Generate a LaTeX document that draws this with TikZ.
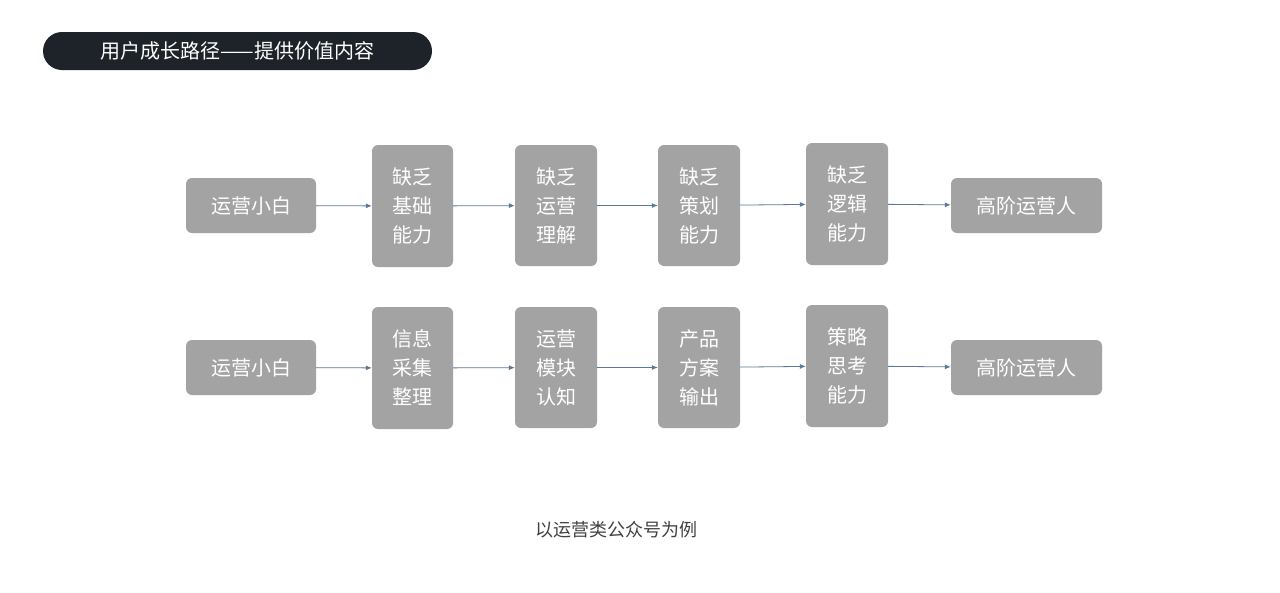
\documentclass[tikz,border=0pt]{standalone}
\usepackage{fontspec}
\setmainfont{Noto Sans CJK SC}
\usetikzlibrary{arrows.meta}
\definecolor{boxgray}{HTML}{A3A3A3}
\definecolor{titlebg}{HTML}{1E2329}
\definecolor{arrowc}{HTML}{5B7897}
\tikzset{
 box/.style={fill=boxgray,rounded corners=6pt,text=white,font=\fontsize{20}{29}\selectfont,align=center,inner sep=0pt},
 conn/.style={draw=arrowc,line width=0.8pt,-{Latex[length=6pt,width=5pt]}}
}
\begin{document}
\begin{tikzpicture}[x=1pt,y=-1pt]
\useasboundingbox (0,0) rectangle (1280,592);
\node[fill=titlebg,rounded corners=19pt,minimum width=389pt,minimum height=38pt,text=white,font=\fontsize{20}{24}\selectfont] (title) at (237.5,51) {用户成长路径——提供价值内容};
\foreach \r/\dy/\a/\b/\c/\d in {1/0/缺乏\\基础\\能力/缺乏\\运营\\理解/缺乏\\策划\\能力/缺乏\\逻辑\\能力, 2/162/信息\\采集\\整理/运营\\模块\\认知/产品\\方案\\输出/策略\\思考\\能力}{
 \node[box,minimum width=130pt,minimum height=55pt] (s\r) at (251,205.5+\dy) {运营小白};
 \node[box,minimum width=81pt,minimum height=122pt] (a\r) at (412.5,206+\dy) {\a};
 \node[box,minimum width=82pt,minimum height=121pt] (b\r) at (556,205.5+\dy) {\b};
 \node[box,minimum width=82pt,minimum height=121pt] (c\r) at (699,205.5+\dy) {\c};
 \node[box,minimum width=82pt,minimum height=122pt] (d\r) at (847,204+\dy) {\d};
 \node[box,minimum width=151pt,minimum height=55pt] (e\r) at (1026.5,205.5+\dy) {高阶运营人};
 \draw[conn] (s\r) -- (a\r);
 \draw[conn] (a\r) -- (b\r);
 \draw[conn] (b\r) -- (c\r);
 \draw[conn] (c\r) -- (d\r);
 \draw[conn] (d\r) -- (e\r);
}
\node[text=black!75,font=\fontsize{18}{22}\selectfont] (cap) at (616,530) {以运营类公众号为例};
\end{tikzpicture}
\end{document}
